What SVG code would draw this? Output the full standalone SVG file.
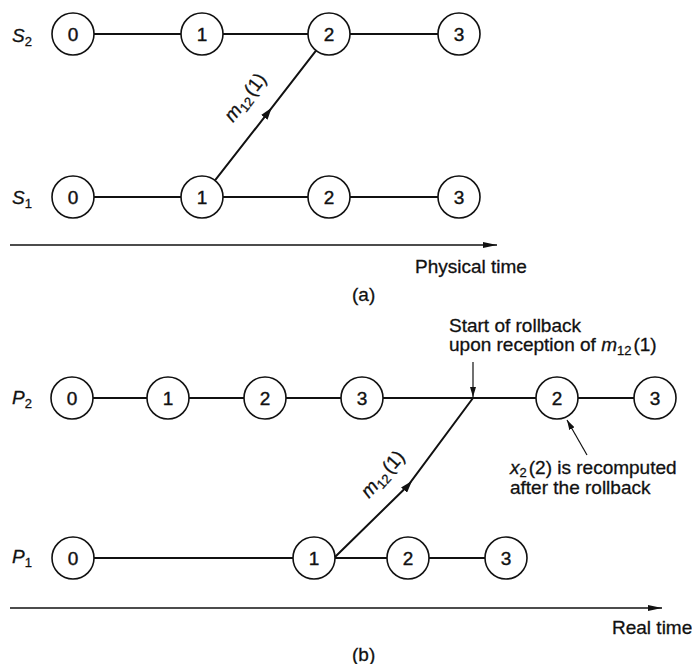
<svg xmlns="http://www.w3.org/2000/svg" width="692" height="664" viewBox="0 0 692 664">
  <defs>
    <style>
      .ev circle { fill: #fff; stroke: #111; stroke-width: 1.6; }
      .ev text { font-family: "Liberation Sans", Arial, sans-serif; font-size: 19px; fill: #111; stroke: #111; stroke-width: 0.4; text-anchor: middle; }
      .line { stroke: #111; stroke-width: 2; fill: none; }
      .axis { stroke: #111; stroke-width: 1.5; fill: none; }
      .thin { stroke: #111; stroke-width: 1.2; fill: none; }
      .lbl { font-family: "Liberation Sans", Arial, sans-serif; font-size: 19px; fill: #111; stroke: #111; stroke-width: 0.3; }
      .it { font-style: italic; }
      .sub { font-size: 13px; }
    </style>
    <marker id="axisHead" viewBox="0 0 14 6" refX="14" refY="3" markerWidth="14" markerHeight="6" markerUnits="userSpaceOnUse" orient="auto">
      <path d="M0,0 L14,3 L0,6 Z" fill="#111"/>
    </marker>
    <marker id="msgHead" viewBox="0 0 12 8" refX="6" refY="4" markerWidth="12" markerHeight="8" markerUnits="userSpaceOnUse" orient="auto">
      <path d="M0,0 L12,4 L0,8 Z" fill="#111"/>
    </marker>
    <marker id="ptrHead" viewBox="0 0 10 6" refX="10" refY="3" markerWidth="10" markerHeight="6" markerUnits="userSpaceOnUse" orient="auto">
      <path d="M0,0 L10,3 L0,6 Z" fill="#111"/>
    </marker>
  </defs>

  <!-- connectors -->
  <g id="connectors">
    <!-- (a) S2 timeline -->
    <line class="line" x1="94" y1="34" x2="181" y2="34"/>
    <line class="line" x1="223" y1="34" x2="308" y2="34"/>
    <line class="line" x1="350" y1="34" x2="438" y2="34"/>
    <!-- (a) S1 timeline -->
    <line class="line" x1="94" y1="197" x2="181" y2="197"/>
    <line class="line" x1="223" y1="197" x2="308" y2="197"/>
    <line class="line" x1="350" y1="197" x2="438" y2="197"/>
    <!-- (a) message m12(1) -->
    <path class="line" d="M215,180.4 L268,112.6 L316,50.6" marker-mid="url(#msgHead)"/>
    <!-- (a) time axis -->
    <line class="axis" x1="10" y1="245" x2="497" y2="245" marker-end="url(#axisHead)"/>

    <!-- (b) P2 timeline -->
    <line class="line" x1="93" y1="398" x2="147" y2="398"/>
    <line class="line" x1="189" y1="398" x2="244" y2="398"/>
    <line class="line" x1="286" y1="398" x2="341" y2="398"/>
    <line class="line" x1="383" y1="398" x2="536" y2="398"/>
    <line class="line" x1="578" y1="398" x2="634" y2="398"/>
    <!-- (b) P1 timeline -->
    <line class="line" x1="94" y1="558" x2="293" y2="558"/>
    <line class="line" x1="335" y1="558" x2="387" y2="558"/>
    <line class="line" x1="429" y1="558" x2="485" y2="558"/>
    <!-- (b) message m12(1) -->
    <path class="line" d="M335,557 L408,485.5 L473,398" marker-mid="url(#msgHead)"/>
    <!-- (b) rollback pointer -->
    <line class="thin" x1="473" y1="362" x2="473" y2="397" marker-end="url(#ptrHead)"/>
    <!-- (b) recompute pointer -->
    <line class="thin" x1="587" y1="455" x2="567" y2="420" marker-end="url(#ptrHead)"/>
    <!-- (b) time axis -->
    <line class="axis" x1="10" y1="608" x2="662" y2="608" marker-end="url(#axisHead)"/>
  </g>

  <!-- (a) process labels -->
  <text class="lbl" x="12" y="42"><tspan class="it">S</tspan><tspan class="sub" dy="4">2</tspan></text>
  <text class="lbl" x="12" y="204"><tspan class="it">S</tspan><tspan class="sub" dy="4">1</tspan></text>

  <!-- (a) events -->
  <g id="a-s2-0" class="ev"><circle cx="73" cy="34" r="21"/><text x="73" y="41">0</text></g>
  <g id="a-s2-1" class="ev"><circle cx="202" cy="34" r="21"/><text x="202" y="41">1</text></g>
  <g id="a-s2-2" class="ev"><circle cx="329" cy="34" r="21"/><text x="329" y="41">2</text></g>
  <g id="a-s2-3" class="ev"><circle cx="459" cy="34" r="21"/><text x="459" y="41">3</text></g>
  <g id="a-s1-0" class="ev"><circle cx="73" cy="197" r="21"/><text x="73" y="204">0</text></g>
  <g id="a-s1-1" class="ev"><circle cx="202" cy="197" r="21"/><text x="202" y="204">1</text></g>
  <g id="a-s1-2" class="ev"><circle cx="329" cy="197" r="21"/><text x="329" y="204">2</text></g>
  <g id="a-s1-3" class="ev"><circle cx="459" cy="197" r="21"/><text x="459" y="204">3</text></g>

  <!-- (a) message label -->
  <text class="lbl" transform="translate(233,123) rotate(-52)"><tspan class="it">m</tspan><tspan class="sub" dy="4">12</tspan><tspan dy="-4" dx="2">(1)</tspan></text>

  <text class="lbl" x="415" y="273">Physical time</text>
  <text class="lbl" x="352" y="301">(a)</text>

  <!-- (b) process labels -->
  <text class="lbl" x="12" y="404"><tspan class="it">P</tspan><tspan class="sub" dy="4">2</tspan></text>
  <text class="lbl" x="12" y="563"><tspan class="it">P</tspan><tspan class="sub" dy="4">1</tspan></text>

  <!-- (b) events -->
  <g id="b-p2-0" class="ev"><circle cx="72" cy="398" r="21"/><text x="72" y="405">0</text></g>
  <g id="b-p2-1" class="ev"><circle cx="168" cy="398" r="21"/><text x="168" y="405">1</text></g>
  <g id="b-p2-2" class="ev"><circle cx="265" cy="398" r="21"/><text x="265" y="405">2</text></g>
  <g id="b-p2-3" class="ev"><circle cx="362" cy="398" r="21"/><text x="362" y="405">3</text></g>
  <g id="b-p2-2r" class="ev"><circle cx="557" cy="398" r="21"/><text x="557" y="405">2</text></g>
  <g id="b-p2-3r" class="ev"><circle cx="655" cy="398" r="21"/><text x="655" y="405">3</text></g>
  <g id="b-p1-0" class="ev"><circle cx="73" cy="558" r="21"/><text x="73" y="565">0</text></g>
  <g id="b-p1-1" class="ev"><circle cx="314" cy="558" r="21"/><text x="314" y="565">1</text></g>
  <g id="b-p1-2" class="ev"><circle cx="408" cy="558" r="21"/><text x="408" y="565">2</text></g>
  <g id="b-p1-3" class="ev"><circle cx="506" cy="558" r="21"/><text x="506" y="565">3</text></g>

  <!-- (b) message label -->
  <text class="lbl" transform="translate(369,499) rotate(-48.5)"><tspan class="it">m</tspan><tspan class="sub" dy="4">12</tspan><tspan dy="-4" dx="2">(1)</tspan></text>

  <!-- (b) annotations -->
  <text class="lbl" x="449" y="332">Start of rollback</text>
  <text class="lbl" x="449" y="351">upon reception of <tspan class="it">m</tspan><tspan class="sub" dy="4">12</tspan><tspan dy="-4" dx="2">(1)</tspan></text>
  <text class="lbl" x="510" y="474"><tspan class="it">x</tspan><tspan class="sub" dy="3">2</tspan><tspan dy="-3" dx="2">(2) is recomputed</tspan></text>
  <text class="lbl" x="510" y="494">after the rollback</text>

  <text class="lbl" x="612" y="634">Real time</text>
  <text class="lbl" x="352" y="661">(b)</text>
</svg>
